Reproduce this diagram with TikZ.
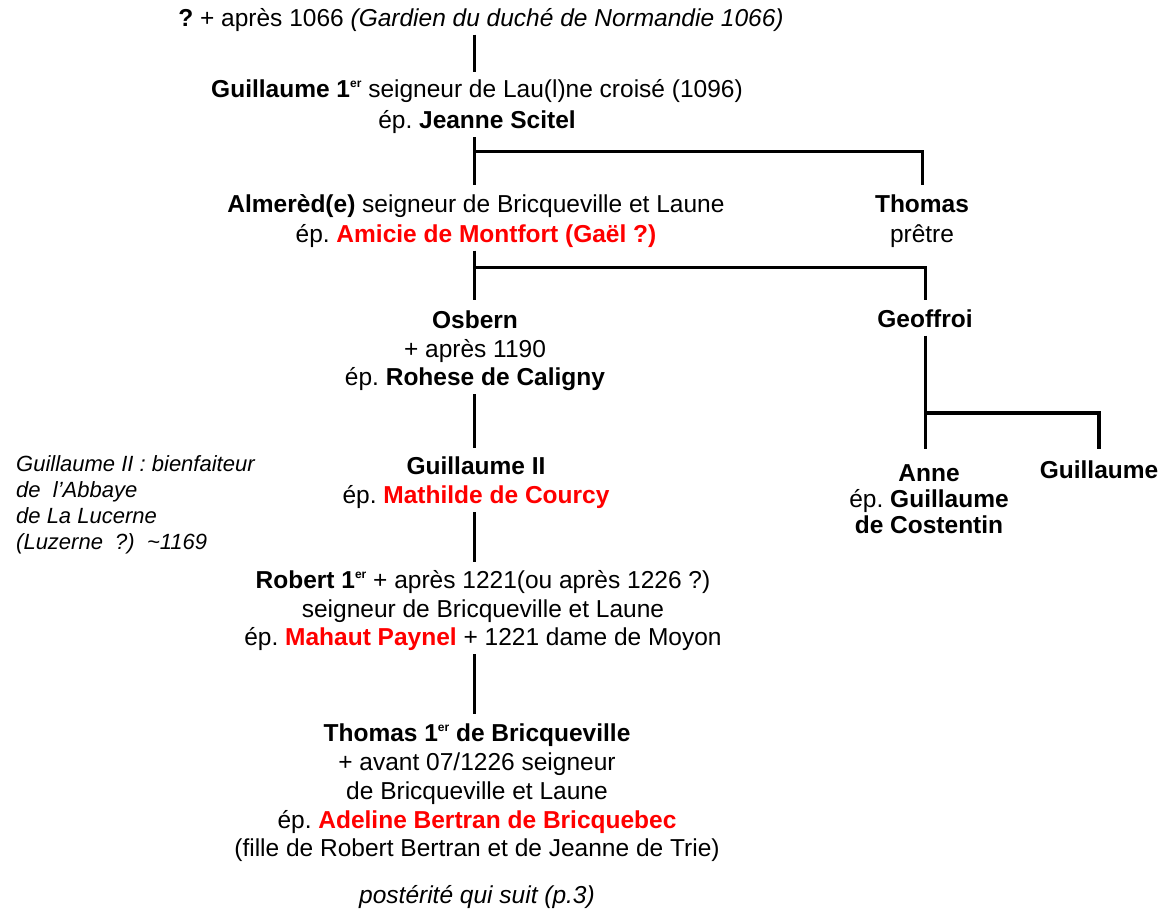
\documentclass[tikz,border=0pt]{standalone}
\usepackage{fontspec}
\setmainfont{Liberation Sans}
\frenchspacing
\definecolor{rd}{RGB}{255,0,0}
\newcommand\ster{\raisebox{0.42em}{\fontsize{12}{12}\selectfont er}}
\tikzset{
  pers/.style={align=center, inner sep=3pt, font=\fontsize{24.5}{29}\selectfont},
  one/.style={text height=18pt, text depth=5pt},
  ln/.style={line width=3pt, shorten >=6pt},
}
\begin{document}
\begin{tikzpicture}[x=1pt,y=-1pt]
\useasboundingbox (0,0) rectangle (1165,915);
\coordinate (sp) at (474,0);
\coordinate (b1) at (474,152);
\coordinate (b2) at (474,267);
\coordinate (b3) at (925,413);

\node[pers,one] (top) at (481,20) {\textbf{?} + après 1066 \textit{(Gardien du duché de Normandie 1066)}};
\node[pers,font=\fontsize{24.5}{31}\selectfont] (g1) at (477,107) {\textbf{Guillaume 1\ster} seigneur de Lau(l)ne croisé (1096)\\ ép. \textbf{Jeanne Scitel}};
\node[pers,font=\fontsize{24.5}{30}\selectfont] (alm) at (476,221) {\textbf{Almerèd(e)} seigneur de Bricqueville et Laune\\ ép. \textcolor{rd}{\textbf{Amicie de Montfort (Gaël ?)}}};
\node[pers,font=\fontsize{24.5}{30}\selectfont] (thomR) at (922,221) {\textbf{Thomas}\\ prêtre};
\node[pers,font=\fontsize{24.5}{28.5}\selectfont] (osb) at (475,351) {\textbf{Osbern}\\ + après 1190\\ ép. \textbf{Rohese de Caligny}};
\node[pers,one] (geo) at (925,321) {\textbf{Geoffroi}};
\node[pers] (g2) at (476,483) {\textbf{Guillaume II}\\ ép. \textcolor{rd}{\textbf{Mathilde de Courcy}}};
\node[pers,font=\fontsize{24.5}{28.5}\selectfont] (rob) at (483,611) {\textbf{Robert 1\ster} + après 1221(ou après 1226 ?)\\ seigneur de Bricqueville et Laune\\ ép. \textcolor{rd}{\textbf{Mahaut Paynel}} + 1221 dame de Moyon};
\node[pers,font=\fontsize{24.5}{28.75}\selectfont] (th1) at (477,793) {\textbf{Thomas 1\ster{} de Bricqueville}\\ + avant 07/1226 seigneur\\ de Bricqueville et Laune\\ ép. \textcolor{rd}{\textbf{Adeline Bertran de Bricquebec}}\\ (fille de Robert Bertran et de Jeanne de Trie)};
\node[pers,font=\fontsize{24.5}{26}\selectfont] (anne) at (929,499) {\textbf{Anne}\\ ép. \textbf{Guillaume}\\ \textbf{de Costentin}};
\node[pers,one] (gR) at (1099,472) {\textbf{Guillaume}};
\node[align=left, anchor=west, inner sep=0pt, font=\fontsize{22}{26}\selectfont\itshape] (note) at (16,505) {Guillaume II : bienfaiteur\\ de\ \ l’Abbaye\\ de La Lucerne\\ (Luzerne\ \ ?)\ \ \textasciitilde1169};
\node[pers,one,font=\fontsize{24.5}{29}\selectfont\itshape] (post) at (477,897) {postérité qui suit (p.3)};

\draw[ln, shorten >=5pt] (top.south -| sp) -- (g1.north -| sp);
\draw[ln] (g1.south -| sp) -- (alm.north -| sp);
\draw[ln] (b1) -| (thomR.north);
\draw[ln, shorten >=8pt] (alm.south -| sp) -- (osb.north -| sp);
\draw[ln] (b2) -| (geo.north);
\draw[ln] (osb.south -| sp) -- (g2.north -| sp);
\draw[ln] (g2.south -| sp) -- (rob.north -| sp);
\draw[ln, shorten >=7pt] (rob.south -| sp) -- (th1.north -| sp);
\draw[ln, shorten >=12pt] (geo.south) -- (geo.south |- anne.north);
\draw[ln, shorten >=8pt, line width=3.4pt] (b3) -| (gR.north);
\end{tikzpicture}
\end{document}
